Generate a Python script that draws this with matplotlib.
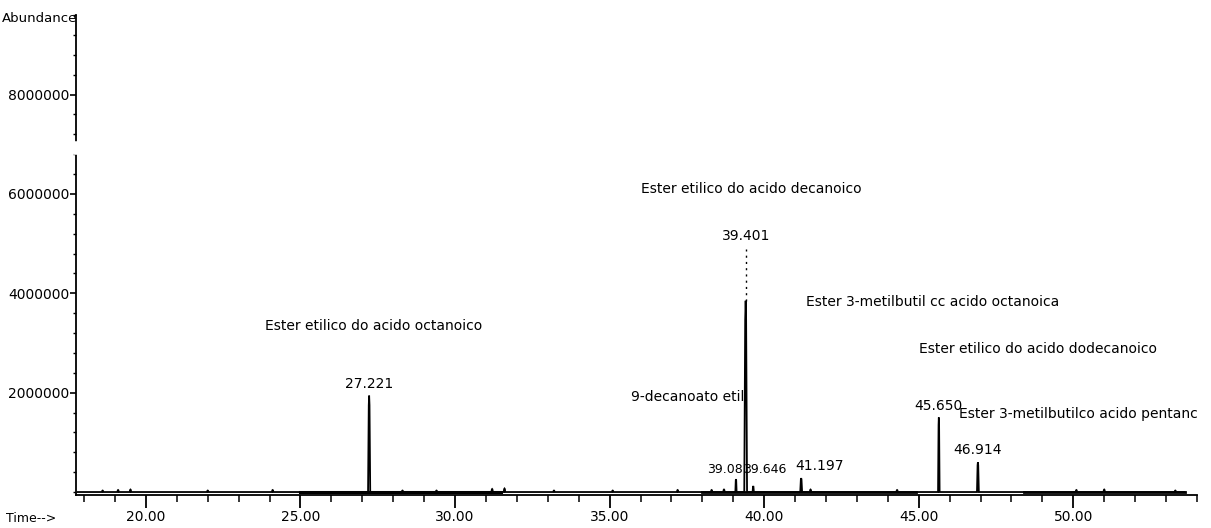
import matplotlib
matplotlib.use("Agg")
import matplotlib.pyplot as plt
from matplotlib.ticker import MultipleLocator, FixedLocator, FixedFormatter

plt.rcParams['font.family'] = ['DejaVu Sans']

# ---- data ----
# main labelled peaks: retention time (min), abundance at apex
peak_times = [27.221, 39.088, 39.401, 39.646, 41.197, 45.650, 46.914]
peak_heights = [1.94e6, 0.26e6, 3.85e6, 0.12e6, 0.28e6, 1.50e6, 0.60e6]
peak_widths = [0.07, 0.04, 0.09, 0.04, 0.06, 0.05, 0.06]
peak_labels = ["27.221", "39.08", "39.401", "39.646", "41.197", "45.650", "46.914"]
# faint (scanned) upper part of the 39.401 peak
apex_39401 = 4.90e6

# small bumps along the baseline
bump_times = [18.6, 19.1, 19.5, 22.0, 24.1, 28.3, 29.4, 31.2, 31.6, 33.2, 35.1,
              37.2, 38.3, 38.7, 41.5, 44.3, 50.1, 51.0, 53.3]
bump_heights = [0.03e6, 0.04e6, 0.05e6, 0.03e6, 0.04e6, 0.03e6, 0.03e6, 0.06e6,
                0.07e6, 0.03e6, 0.03e6, 0.04e6, 0.04e6, 0.05e6, 0.05e6, 0.04e6,
                0.04e6, 0.05e6, 0.03e6]

# compound annotations: text, time position (left edge), abundance position
compound_texts = ["Ester etilico do acido octanoico",
                  "Ester etilico do acido decanoico",
                  "9-decanoato etil",
                  "Ester 3-metilbutil cc acido octanoica",
                  "Ester etilico do acido dodecanoico",
                  "Ester 3-metilbutilco acido pentanc"]
compound_t = [23.85, 36.0, 35.7, 41.35, 45.0, 46.3]
compound_y = [3.34e6, 6.10e6, 1.92e6, 3.82e6, 2.88e6, 1.58e6]

x_major = [20, 25, 30, 35, 40, 45, 50]
x_major_labels = ["20.00", "25.00", "30.00", "35.00", "40.00", "45.00", "50.00"]
y_major = [2e6, 4e6, 6e6, 8e6]
y_major_labels = ["2000000", "4000000", "6000000", "8000000"]

x_range = (17.74, 54.0)
y_range = (-0.06e6, 9.6e6)

# ---- build trace from the peak lists ----
items = sorted(list(zip(peak_times, peak_heights, peak_widths)) +
               [(t, h, 0.05) for t, h in zip(bump_times, bump_heights)])
xs = [x_range[0] + 0.05]
ys = [0.0]
for t, h, w in items:
    xs += [t - w / 2, t - w / 6, t, t + w / 6, t + w / 2]
    ys += [0.0, h * 0.9, h, h * 0.9, 0.0]
xs.append(53.6)
ys.append(0.0)

fig = plt.figure(figsize=(12.11, 5.28), dpi=100)
ax = fig.add_axes([0.0628, 0.0625, 0.9256, 0.909])
ax.plot(xs, ys, color='black', lw=1.3, solid_joinstyle='miter')
# thicker baseline stretches
ax.plot([25.0, 31.5], [0.01e6, 0.01e6], color='black', lw=2.2)
ax.plot([38.0, 44.9], [0.01e6, 0.01e6], color='black', lw=2.0)
ax.plot([48.4, 53.6], [0.01e6, 0.01e6], color='black', lw=2.0)
# faint upper part of main peak
i = peak_times.index(39.401)
ax.plot([peak_times[i], peak_times[i]], [peak_heights[i], apex_39401],
        color='black', lw=1.0, ls=(0, (1.5, 3)))

ax.set_xlim(*x_range)
ax.set_ylim(*y_range)

for s in ['top', 'right']:
    ax.spines[s].set_visible(False)
for s in ['left', 'bottom']:
    ax.spines[s].set_linewidth(1.3)
    ax.spines[s].set_color('black')

ax.xaxis.set_major_locator(FixedLocator(x_major))
ax.xaxis.set_major_formatter(FixedFormatter(x_major_labels))
ax.xaxis.set_minor_locator(MultipleLocator(1))
ax.yaxis.set_major_locator(FixedLocator(y_major))
ax.yaxis.set_major_formatter(FixedFormatter(y_major_labels))
ax.yaxis.set_minor_locator(MultipleLocator(4e5))
ax.tick_params(axis='x', which='major', length=9, width=1.3, labelsize=10, pad=2)
ax.tick_params(axis='x', which='minor', length=5, width=1.1)
ax.tick_params(axis='y', which='major', length=4, width=1.2, labelsize=10, pad=1)
ax.tick_params(axis='y', which='minor', length=2, width=1.0)

# break in the y axis
ax.plot([0, 0], [6.85e6, 7.0e6], transform=ax.get_yaxis_transform(),
        color='white', lw=4, clip_on=False, zorder=5)

# peak labels
for t, h, lab in zip(peak_times, peak_heights, peak_labels):
    if lab == "39.401":
        ax.text(t, apex_39401 + 0.12e6, lab, ha='center', va='bottom', fontsize=10)
    elif lab == "39.08":
        ax.text(39.30, h + 0.07e6, lab, ha='right', va='bottom', fontsize=9)
    elif lab == "39.646":
        ax.text(39.31, 0.33e6, lab, ha='left', va='bottom', fontsize=9)
    elif lab == "41.197":
        ax.text(41.0, h + 0.1e6, lab, ha='left', va='bottom', fontsize=10)
    else:
        ax.text(t, h + 0.1e6, lab, ha='center', va='bottom', fontsize=10)

for txt, t, y in zip(compound_texts, compound_t, compound_y):
    ax.text(t, y, txt, ha='left', va='center', fontsize=10, clip_on=False)

fig.text(2 / 1211, 1 - 18 / 528, "Abundance", ha='left', va='center', fontsize=9.5)
fig.text(6 / 1211, 1 - 518 / 528, "Time-->", ha='left', va='center', fontsize=9)

fig.savefig("out.png", dpi=100)
